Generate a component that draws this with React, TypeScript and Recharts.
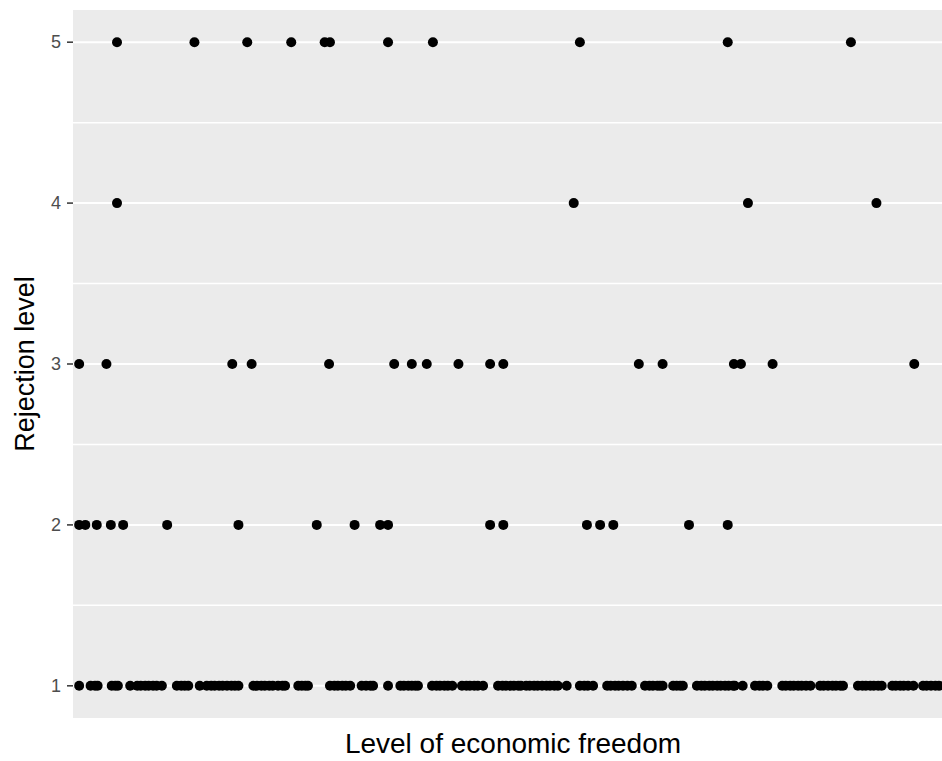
import React from 'react';
import { ScatterChart, Scatter, XAxis, YAxis, ReferenceArea, ReferenceLine } from 'recharts';

// economic freedom score (0-100) per country, grouped by rejection level
const level1 = [
  0.7, 2.0, 2.5, 2.8, 4.4, 4.8, 5.1, 6.5, 7.3, 7.7, 8.2, 8.6, 9.1, 9.5, 10.1, 11.8, 12.3, 12.7, 13.1,
  14.4, 15.2, 15.7, 16.1, 16.6, 17.0, 17.5, 18.0, 18.4, 18.8, 20.5, 20.9, 21.4, 21.8, 22.3, 22.7, 23.3,
  23.8, 24.1, 25.6, 26.0, 26.4, 26.7, 29.2, 29.7, 30.1, 30.6, 31.0, 31.5, 32.8, 33.3, 33.8, 34.1, 35.8,
  37.2, 37.6, 38.1, 38.5, 38.9, 39.2, 40.8, 41.3, 41.7, 42.2, 42.6, 43.1, 44.2, 44.7, 45.1, 45.6, 46.0,
  46.6, 48.3, 48.8, 49.2, 49.7, 50.1, 50.6, 50.9, 51.5, 51.9, 52.4, 52.8, 53.3, 53.8, 54.2, 54.7, 55.1,
  56.1, 57.6, 58.1, 58.5, 59.1, 60.7, 61.1, 61.6, 62.0, 62.5, 63.0, 63.5, 65.0, 65.5, 65.9, 66.4, 66.7,
  67.0, 68.2, 68.6, 69.0, 69.3, 70.9, 71.4, 71.8, 72.3, 72.7, 73.2, 73.6, 74.1, 74.5, 75.0, 75.2, 76.1,
  77.5, 78.0, 78.4, 78.9, 80.6, 81.0, 81.5, 81.9, 82.4, 82.8, 83.3, 83.8, 84.9, 85.3, 85.8, 86.3, 86.7,
  87.2, 87.5, 89.2, 89.7, 90.1, 90.6, 91.0, 91.5, 91.9, 93.1, 93.5, 94.0, 94.4, 94.9, 95.5, 96.6, 97.0,
  97.5, 98.0, 98.4, 99.0,
];
const level2 = [0.7, 1.4, 2.7, 4.3, 5.7, 10.7, 18.8, 27.7, 32.0, 34.9, 35.8, 47.4, 48.9, 58.4, 59.9, 61.4, 70.0, 74.4];
const level3 = [0.7, 3.8, 18.1, 20.3, 29.1, 36.5, 38.5, 40.2, 43.8, 47.4, 48.9, 64.3, 67.0, 75.1, 75.9, 79.5, 95.6];
const level4 = [5.0, 56.9, 76.7, 91.3];
const level5 = [5.0, 13.8, 19.8, 24.8, 28.6, 29.2, 35.8, 40.9, 57.6, 74.4, 88.4];

const yTicks = [1, 2, 3, 4, 5];
const yMinor = [1.5, 2.5, 3.5, 4.5];

const groups = [level1, level2, level3, level4, level5];
const points = groups.flatMap((xs, i) => xs.map((x) => ({ freedom: x, rejection: i + 1 })));

const font = '"Liberation Sans", Arial, sans-serif';

const YTitle = ({ viewBox }: any) => {
  const cx = 25;
  const cy = viewBox.y + viewBox.height / 2;
  return (
    <text x={cx} y={cy} transform={`rotate(-90 ${cx} ${cy})`} textAnchor="middle" dominantBaseline="central"
      fontFamily={font} fontSize={27} fill="#000">
      Rejection level
    </text>
  );
};

const XTitle = ({ viewBox }: any) => (
  <text x={viewBox.x + viewBox.width / 2} y={viewBox.y + 35} textAnchor="middle"
    fontFamily={font} fontSize={28} fill="#000">
    Level of economic freedom
  </text>
);

const YTick = ({ x, y, payload }: any) => (
  <text x={x} y={y} dy={6} textAnchor="end" fontFamily={font} fontSize={18} fill="#4D4D4D">
    {payload.value}
  </text>
);

const Dot = (props: any) => <circle cx={props.cx} cy={props.cy} r={5} fill="#000000" />;

export default function App() {
  return (
    <div style={{ position: 'absolute', left: 0, top: 0, width: 942, height: 761, overflow: 'hidden', background: '#fff' }}>
      <ScatterChart width={953} height={761} margin={{ top: 10, right: 0, bottom: 0, left: 0 }}>
        <XAxis type="number" dataKey="freedom" domain={[0, 100]} height={43} tick={false} tickLine={false}
          axisLine={false} label={<XTitle />} />
        <YAxis type="number" dataKey="rejection" domain={[0.8, 5.2]} ticks={yTicks} width={73}
          axisLine={false} tickLine={{ stroke: '#333333', strokeWidth: 1.5 }} tickSize={6} tickMargin={6}
          tick={<YTick />} label={<YTitle />} />
        <ReferenceArea y1={0.8} y2={5.2} fill="#EBEBEB" fillOpacity={1} stroke="none" />
        {yMinor.map((v) => (
          <ReferenceLine key={`minor-${v}`} y={v} stroke="#FFFFFF" strokeWidth={1.5} />
        ))}
        {yTicks.map((v) => (
          <ReferenceLine key={`major-${v}`} y={v} stroke="#FFFFFF" strokeWidth={2} />
        ))}
        <Scatter data={points} fill="#000000" shape={<Dot />} isAnimationActive={false} />
      </ScatterChart>
    </div>
  );
}
